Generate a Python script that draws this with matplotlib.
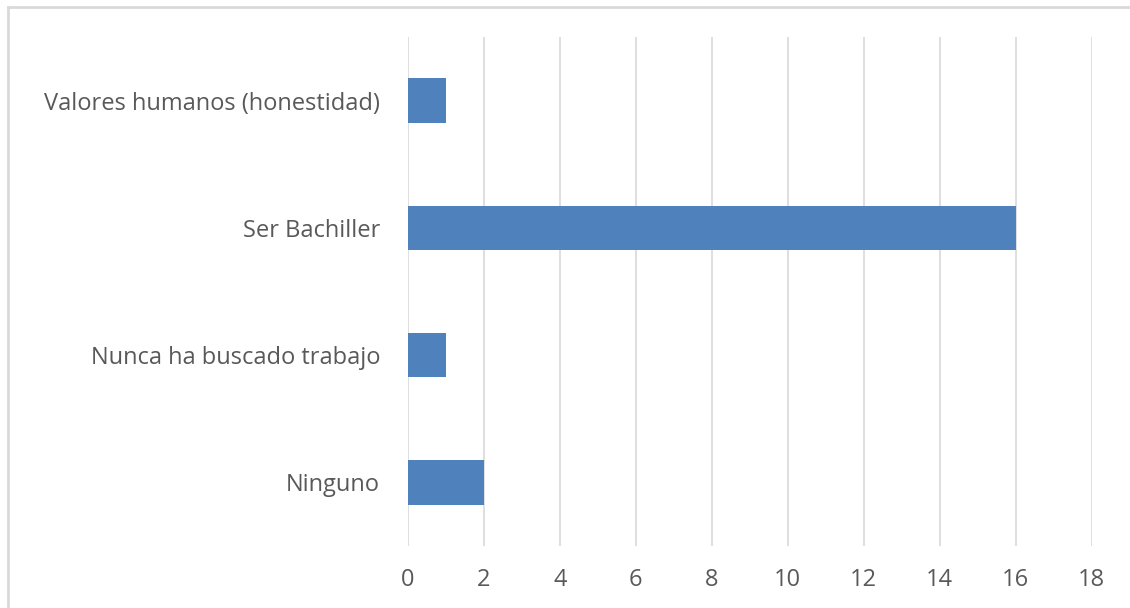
import matplotlib.pyplot as plt
from matplotlib.lines import Line2D

categories = [
    "Ninguno",
    "Nunca ha buscado trabajo",
    "Ser Bachiller",
    "Valores humanos (honestidad)"
]
values = [2, 1, 16, 1]
x_ticks = [0, 2, 4, 6, 8, 10, 12, 14, 16, 18]

plt.rcParams["font.family"] = ["Open Sans", "DejaVu Sans"]

fig = plt.figure(figsize=(11.3, 6.08), dpi=100)
ax = fig.add_axes([0.361, 0.102, 0.605, 0.837])

ax.barh(
    range(len(categories)),
    values,
    height=0.35,
    color="#4F81BD",
    zorder=3
)

ax.set_xlim(0, 18)
ax.set_ylim(-0.5, len(categories) - 0.5)
ax.set_xticks(x_ticks)
ax.set_yticks(range(len(categories)))
ax.set_yticklabels(categories)

ax.grid(axis="x", color="#D9D9D9", linewidth=1.2, zorder=0)
for side in ["top", "right", "bottom", "left"]:
    ax.spines[side].set_visible(False)

ax.tick_params(axis="both", length=0, labelsize=17, colors="#595959")
ax.tick_params(axis="x", pad=16)
ax.tick_params(axis="y", pad=20)

# thin outer chart border
fig.add_artist(Line2D([0.007, 0.007], [0, 0.988], color="#D9D9D9", linewidth=2))
fig.add_artist(Line2D([0.007, 1.0], [0.988, 0.988], color="#D9D9D9", linewidth=2))

fig.savefig("out.png", dpi=100)
